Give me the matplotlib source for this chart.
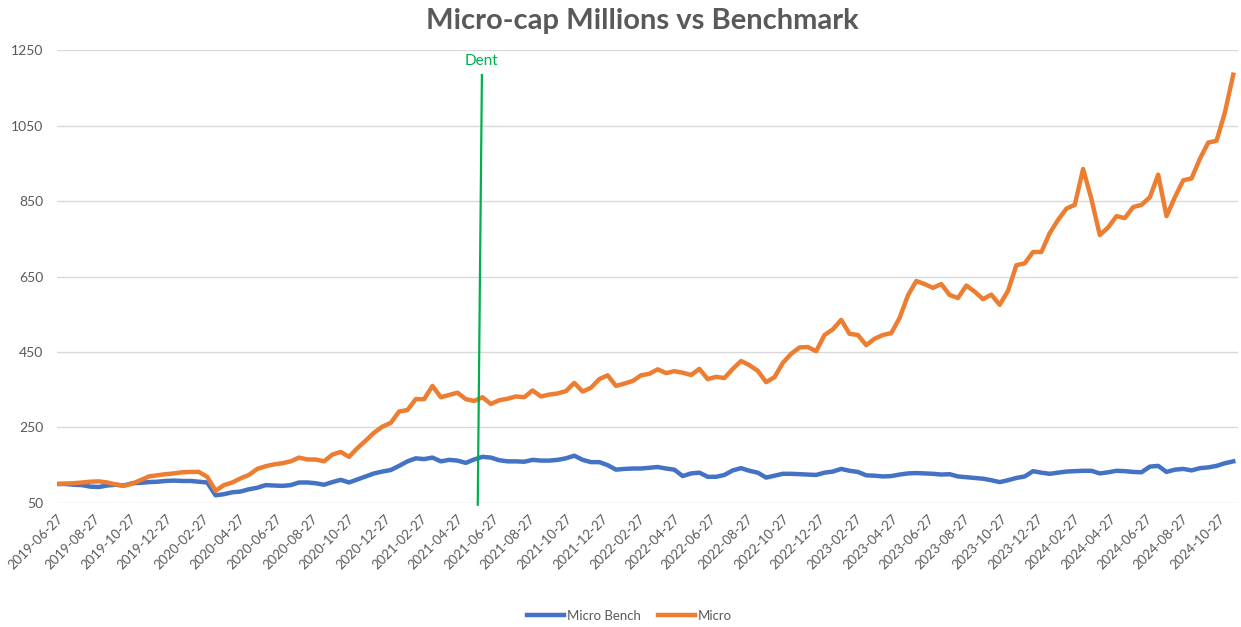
import matplotlib
matplotlib.use("Agg")
import matplotlib.pyplot as plt
import matplotlib.dates as mdates
import pandas as pd

plt.rcParams['font.family'] = ['Lato', 'DejaVu Sans']

# values, one point every 14 days from 2019-06-27
micro = [100, 101, 102, 104, 106, 107, 104, 99, 95, 101,
         110, 120, 123, 126, 128, 131, 132, 132, 119, 82,
         97, 104, 115, 124, 140, 147, 152, 155, 160, 170,
         165, 165, 160, 178, 185, 172, 195, 215, 236, 252,
         262, 292, 296, 325, 325, 360, 330, 336, 342, 325,
         320, 330, 312, 322, 326, 332, 330, 348, 332, 337,
         340, 346, 368, 345, 355, 378, 388, 360, 366, 373,
         388, 392, 404, 394, 399, 395, 389, 405, 378, 384,
         381, 405, 426, 415, 400, 370, 383, 421, 445, 462,
         463, 452, 495, 510, 535, 498, 495, 468, 485, 495,
         500, 540, 600, 638, 630, 620, 630, 601, 593, 626,
         610, 590, 602, 575, 612, 680, 685, 715, 715, 765,
         800, 830, 840, 935, 855, 760, 780, 810, 805, 834,
         840, 860, 920, 810, 860, 905, 910, 962, 1005, 1010,
         1085, 1185]

micro_bench = [100, 100, 98, 97, 93, 92, 96, 98, 96, 102,
               103, 105, 106, 108, 109, 108, 108, 106, 104, 70,
               73, 78, 80, 86, 90, 97, 96, 95, 97, 104,
               104, 102, 98, 105, 111, 104, 112, 120, 128, 133,
               137, 148, 160, 168, 166, 170, 160, 164, 162, 156,
               165, 172, 170, 163, 160, 160, 159, 164, 162, 162,
               164, 168, 175, 164, 158, 158, 150, 138, 140, 141,
               141, 143, 145, 141, 138, 121, 128, 130, 119, 119,
               124, 136, 142, 135, 130, 117, 122, 127, 127, 126,
               125, 124, 130, 133, 140, 135, 132, 123, 122, 120,
               121, 125, 128, 129, 128, 127, 125, 126, 120, 118,
               116, 114, 110, 105, 110, 116, 120, 134, 130, 127,
               130, 133, 134, 135, 135, 128, 131, 135, 134, 132,
               131, 146, 148, 132, 138, 140, 136, 142, 144, 148,
               155, 160]

dates = pd.date_range('2019-06-27', periods=len(micro), freq='14D')
tick_dates = pd.date_range('2019-06-27', '2024-10-27', freq=pd.DateOffset(months=2))

dent_x = [pd.Timestamp('2021-06-09'), pd.Timestamp('2021-06-02')]
dent_y = [1184, 45]

fig = plt.figure(figsize=(12.41, 6.27), dpi=100)
ax = fig.add_axes([0.046, 0.198, 0.9516, 0.722])

ax.plot(dates, micro_bench, color='#4472C4', linewidth=3.2, label='Micro Bench')
ax.plot(dates, micro, color='#ED7D31', linewidth=3.2, label='Micro')
ax.plot(dent_x, dent_y, color='#00B050', linewidth=1.6, clip_on=False, zorder=5)
ax.text(dent_x[0], 1222, 'Dent', color='#00B050', fontsize=11,
        ha='center', va='center')

ax.set_ylim(50, 1250)
ax.set_yticks(range(50, 1251, 200))
ax.set_xlim(pd.Timestamp('2019-06-27'), pd.Timestamp('2024-11-29'))
ax.set_xticks(tick_dates)
ax.xaxis.set_major_formatter(mdates.DateFormatter('%Y-%m-%d'))
for lab in ax.get_xticklabels():
    lab.set_rotation(45)
    lab.set_ha('right')
    lab.set_rotation_mode('anchor')

ax.grid(axis='y', color='#D9D9D9', linewidth=1)
ax.set_axisbelow(True)
for s in ax.spines.values():
    s.set_visible(False)
ax.tick_params(length=0, colors='#595959')
ax.tick_params(axis='x', pad=7, labelsize=9.5)
ax.tick_params(axis='y', pad=10, labelsize=10)

fig.text(0.518, 0.966, 'Micro-cap Millions vs Benchmark', ha='center', va='center',
         fontsize=21, fontweight='bold', color='#595959')

fig.legend(loc='center', bbox_to_anchor=(0.507, 0.018), ncol=2, frameon=False,
           fontsize=9.5, labelcolor='#595959', handlelength=2.8, handletextpad=0.2,
           columnspacing=1.3)

fig.savefig('out.png', dpi=100)
